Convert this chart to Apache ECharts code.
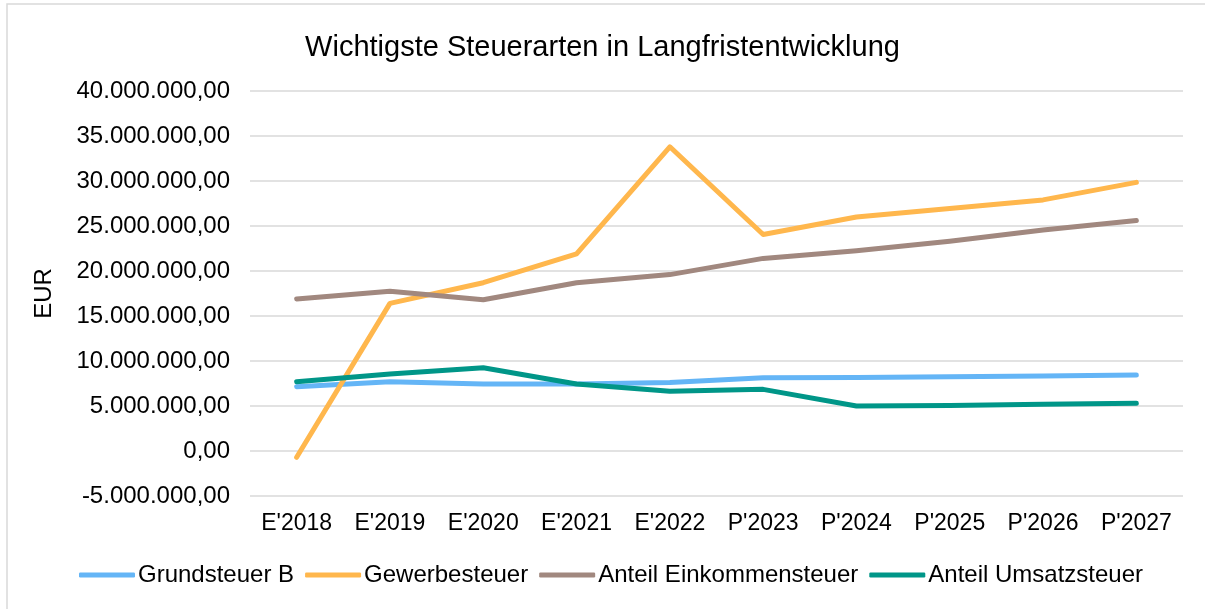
<!DOCTYPE html>
<html>
<head>
<meta charset="utf-8">
<script src="https://cdn.jsdelivr.net/npm/echarts@6/dist/echarts.min.js"></script>
<style>
html,body{margin:0;padding:0;background:#fff;}
#chart{width:1205px;height:609px;}
</style>
</head>
<body>
<div id="chart"></div>
<script>
const categories = ["E'2018","E'2019","E'2020","E'2021","E'2022","P'2023","P'2024","P'2025","P'2026","P'2027"];
const grundsteuerB = [7150000, 7700000, 7450000, 7450000, 7600000, 8150000, 8180000, 8260000, 8330000, 8440000];
const gewerbesteuer = [-700000, 16400000, 18700000, 21900000, 33800000, 24050000, 26000000, 26950000, 27900000, 29850000];
const einkommensteuer = [16900000, 17750000, 16800000, 18700000, 19600000, 21400000, 22250000, 23300000, 24550000, 25600000];
const umsatzsteuer = [7700000, 8550000, 9250000, 7450000, 6650000, 6850000, 5000000, 5050000, 5200000, 5300000];
const seriesNames = ["Grundsteuer B", "Gewerbesteuer", "Anteil Einkommensteuer", "Anteil Umsatzsteuer"];
const colors = ["#64B5F6", "#FFB74D", "#A1887F", "#009688"];

function fmtDE(v) {
  const neg = v < 0;
  let s = Math.round(Math.abs(v)).toString();
  s = s.replace(/\B(?=(\d{3})+(?!\d))/g, ".");
  return (neg ? "-" : "") + s + ",00";
}

const chart = echarts.init(document.getElementById('chart'), null, {renderer: 'canvas'});
const font = "Liberation Sans, Arial, sans-serif";
const dataSets = [grundsteuerB, gewerbesteuer, einkommensteuer, umsatzsteuer];

chart.setOption({
  animation: false,
  backgroundColor: '#fff',
  title: {
    text: 'Wichtigste Steuerarten in Langfristentwicklung',
    left: 'center',
    top: 28,
    textStyle: {fontFamily: font, fontSize: 29, fontWeight: 'normal', color: '#000'}
  },
  graphic: [{
    type: 'rect', silent: true,
    shape: {x: 7, y: 4, width: 1220, height: 640},
    style: {fill: 'none', stroke: '#d9d9d9', lineWidth: 1.5}
  }],
  legend: {
    data: seriesNames,
    bottom: 17,
    left: 74,
    icon: 'roundRect',
    itemWidth: 56,
    itemHeight: 5,
    itemGap: 11,
    textStyle: {fontFamily: font, fontSize: 24, color: '#000', padding: [0, 0, 0, -2]}
  },
  grid: {left: 250, right: 22, top: 91, bottom: 113, containLabel: false},
  xAxis: {
    type: 'category',
    data: categories,
    boundaryGap: true,
    axisLine: {show: false},
    axisTick: {show: false},
    axisLabel: {fontFamily: font, fontSize: 23, color: '#000', margin: 16}
  },
  yAxis: {
    type: 'value',
    min: -5000000, max: 40000000, interval: 5000000,
    name: 'EUR',
    nameLocation: 'middle',
    nameGap: 194,
    nameTextStyle: {fontFamily: font, fontSize: 24, color: '#000'},
    axisLine: {show: false},
    axisTick: {show: false},
    splitLine: {lineStyle: {color: '#d9d9d9', width: 1.5}},
    axisLabel: {fontFamily: font, fontSize: 24, color: '#000', margin: 20, formatter: fmtDE}
  },
  series: seriesNames.map((n, i) => ({
    name: n,
    type: 'line',
    data: dataSets[i],
    showSymbol: false,
    symbol: 'none',
    color: colors[i],
    lineStyle: {width: 5, color: colors[i], cap: 'round', join: 'round'},
    z: i === 0 ? 2 : 3
  }))
});
</script>
</body>
</html>
